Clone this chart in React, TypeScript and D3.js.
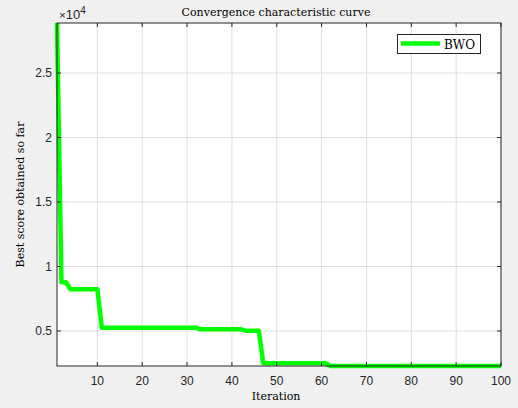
import React from "react";
import * as d3 from "d3";

const iterations: number[] = Array.from({ length: 100 }, (_, i) => i + 1);
// best score per iteration (step changes)
const stepStarts: number[] = [1, 2, 4, 11, 33, 43, 47, 62];
const stepValues: number[] = [28876, 8775, 8233, 5256, 5132, 5023, 2496, 2287];
const scores: number[] = iterations.map((it) => {
  let v = stepValues[0];
  for (let k = 0; k < stepStarts.length; k++) if (it >= stepStarts[k]) v = stepValues[k];
  return v;
});
const xTicks: number[] = [10, 20, 30, 40, 50, 60, 70, 80, 90, 100];
const yTicks: number[] = [5000, 10000, 15000, 20000, 25000];
const yTickLabels: string[] = ["0.5", "1", "1.5", "2", "2.5"];
const seriesName = "BWO";

const W = 518, H = 408;
const L = 57, R = 501, T = 23, B = 366;

export default function App() {
  const x = d3.scaleLinear().domain([1, 100]).range([L, R]);
  const y = d3.scaleLinear().domain([2287, 28876]).range([B, T]);
  const line = d3.line<number>().x((_, i) => x(iterations[i])).y((d) => y(d));
  const axisColor = "#262626";
  const sans = "'Liberation Sans', Arial, sans-serif";
  const serif = "'DejaVu Serif', 'Liberation Serif', serif";
  return (
    <svg width={W} height={H} style={{ position: "absolute", left: 0, top: 0 }}>
      <rect x={0} y={0} width={W} height={H} fill="#f0f0f0" />
      <rect x={L} y={T} width={R - L} height={B - T} fill="#fff" />
      {xTicks.map((t) => (
        <line key={"gx" + t} x1={x(t)} x2={x(t)} y1={T} y2={B} stroke="#dfdfdf" strokeWidth={1} />
      ))}
      {yTicks.map((t) => (
        <line key={"gy" + t} x1={L} x2={R} y1={y(t)} y2={y(t)} stroke="#dfdfdf" strokeWidth={1} />
      ))}
      <path d={line(scores) || ""} fill="none" stroke="#00ff00" strokeWidth={4.5} strokeLinejoin="round" />
      <rect x={L} y={T} width={R - L} height={B - T} fill="none" stroke={axisColor} strokeWidth={1} />
      {xTicks.map((t) => (
        <g key={"tx" + t}>
          <line x1={x(t)} x2={x(t)} y1={B} y2={B - 4} stroke={axisColor} />
          <line x1={x(t)} x2={x(t)} y1={T} y2={T + 4} stroke={axisColor} />
          <text x={x(t)} y={385} textAnchor="middle" fontFamily={sans} fontSize={12} fill={axisColor}>{t}</text>
        </g>
      ))}
      {yTicks.map((t, i) => (
        <g key={"ty" + t}>
          <line x1={L} x2={L + 4} y1={y(t)} y2={y(t)} stroke={axisColor} />
          <line x1={R} x2={R - 4} y1={y(t)} y2={y(t)} stroke={axisColor} />
          <text x={52} y={y(t) + 4} textAnchor="end" fontFamily={sans} fontSize={12} fill={axisColor}>{yTickLabels[i]}</text>
        </g>
      ))}
      <text x={59} y={19} fontFamily={sans} fontSize={13} fill={axisColor}>
        <tspan fontSize={11.5}>×</tspan>10<tspan dy={-5} fontSize={10}>4</tspan>
      </text>
      <text x={276} y={16} textAnchor="middle" fontFamily={serif} fontSize={11} fill="#000">Convergence characteristic curve</text>
      <text x={276} y={400} textAnchor="middle" fontFamily={serif} fontSize={11} fill="#000">Iteration</text>
      <text transform={`translate(24,${(T + B) / 2}) rotate(-90)`} textAnchor="middle" fontFamily={serif} fontSize={11} fill="#000">Best score obtained so far</text>
      <rect x={397.5} y={34.5} width={83} height={19} fill="#fff" stroke={axisColor} strokeWidth={1} />
      <line x1={401} x2={440} y1={43.5} y2={43.5} stroke="#00ff00" strokeWidth={4.5} />
      <text x={444} y={48.5} fontFamily={serif} fontSize={12} fill="#000">{seriesName}</text>
    </svg>
  );
}
